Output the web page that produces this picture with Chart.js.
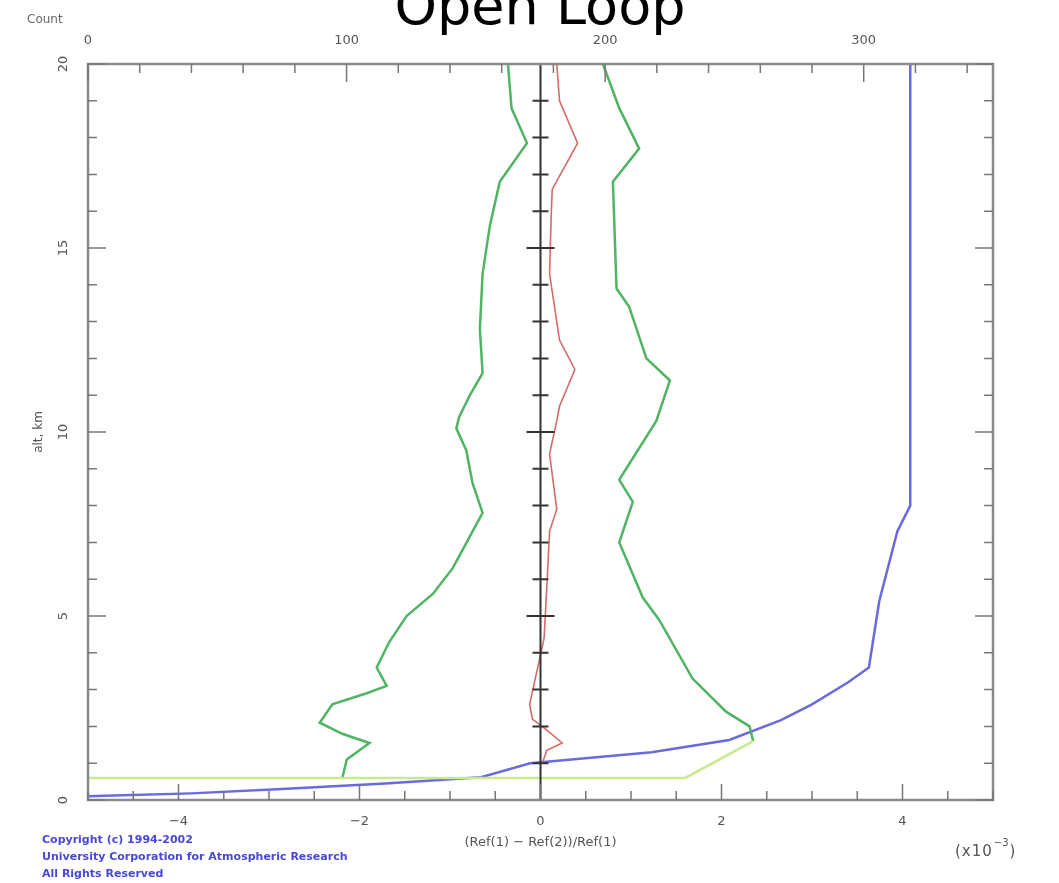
<!DOCTYPE html>
<html>
<head>
<meta charset="utf-8">
<script src="https://cdn.jsdelivr.net/npm/chart.js@4.4.0/dist/chart.umd.min.js"></script>
<style>
  html, body { margin: 0; padding: 0; background: #fff; }
  #wrap { width: 1059px; height: 883px; }
</style>
</head>
<body>
<div id="wrap"><canvas id="chart"></canvas></div>
<script>
// ---- data ----
// left green curve (mean - sigma), x in units of 1e-3
const leftAlt   = [20, 18.8, 17.85, 16.8, 15.6, 14.3, 12.8, 11.6, 11.0, 10.4, 10.1, 9.5, 8.6, 7.8, 6.3, 5.6, 5.0, 4.3, 3.6, 3.1, 2.9, 2.6, 2.1, 1.8, 1.55, 1.1, 0.6];
const leftVal   = [-0.36, -0.32, -0.15, -0.45, -0.56, -0.64, -0.67, -0.64, -0.78, -0.9, -0.93, -0.82, -0.75, -0.64, -0.97, -1.19, -1.48, -1.67, -1.81, -1.70, -1.92, -2.30, -2.44, -2.19, -1.89, -2.14, -2.19];

// right green curve (mean + sigma)
const rightAlt  = [20, 18.8, 17.7, 16.8, 13.9, 13.4, 12.0, 11.4, 10.3, 8.7, 8.1, 7.0, 5.5, 4.9, 3.3, 2.4, 2.0, 1.6];
const rightVal  = [0.69, 0.87, 1.09, 0.80, 0.84, 0.98, 1.17, 1.43, 1.28, 0.87, 1.02, 0.87, 1.13, 1.31, 1.68, 2.05, 2.31, 2.35];

// lowest level segment (light green)
const lowAlt    = [0.6, 0.6, 1.6];
const lowVal    = [-5.5, 1.6, 2.35];

// red curve (mean)
const meanAlt   = [20, 19, 17.85, 16.6, 16, 14.3, 12.5, 11.7, 10.7, 10.3, 9.4, 7.9, 7.3, 5.8, 4.4, 2.6, 2.2, 1.9, 1.55, 1.35, 1.0];
const meanVal   = [0.18, 0.21, 0.41, 0.13, 0.12, 0.10, 0.21, 0.38, 0.21, 0.18, 0.10, 0.18, 0.10, 0.07, 0.04, -0.12, -0.09, 0.07, 0.24, 0.07, 0.02];

// blue curve: sample count (top axis)
const countAlt  = [20, 8.0, 7.3, 5.4, 3.6, 3.2, 2.6, 2.17, 1.63, 1.3, 1.0, 0.62, 0.45, 0.3, 0.18, 0.12, 0.1];
const countVal  = [318, 318, 313, 306, 302, 294, 280, 268, 248, 218, 171, 152, 115, 75, 40, 10, 0];

const xTicks     = [-4, -2, 0, 2, 4];
const countTicks = [0, 100, 200, 300];
const altTicks   = [0, 5, 10, 15, 20];

function pts(xs, ys) {
    return xs.map((x, i) => ({ x: x, y: ys[i] }));
}

// =========================
// FRAME / TICKS / TEXT
// =========================
const decor = {
    id: "decor",
    afterDatasetsDraw(chart) {
        const ctx = chart.ctx;
        const a = chart.chartArea;
        const sx = chart.scales.x, sc = chart.scales.x2, sy = chart.scales.y;
        ctx.save();

        // zero axis in the middle with dashes
        const x0 = sx.getPixelForValue(0);
        ctx.strokeStyle = "#333";
        ctx.lineWidth = 2;
        ctx.beginPath();
        ctx.moveTo(x0, a.top);
        ctx.lineTo(x0, a.bottom);
        for (let v = 1; v < 20; v++) {
            const py = sy.getPixelForValue(v);
            const h = v % 5 === 0 ? 14 : 8;
            ctx.moveTo(x0 - h, py);
            ctx.lineTo(x0 + h, py);
        }
        ctx.stroke();

        // frame
        ctx.strokeStyle = "#8a8a8a";
        ctx.lineWidth = 2.5;
        ctx.strokeRect(a.left, a.top, a.right - a.left, a.bottom - a.top);

        // ticks
        ctx.strokeStyle = "#777";
        ctx.lineWidth = 1.5;
        ctx.beginPath();
        for (let v = -5; v <= 5; v += 0.5) {
            const px = sx.getPixelForValue(v);
            const h = v % 2 === 0 ? 16 : 9;
            ctx.moveTo(px, a.bottom);
            ctx.lineTo(px, a.bottom - h);
        }
        for (let v = 0; v <= 350; v += 20) {
            const px = sc.getPixelForValue(v);
            const h = v % 100 === 0 ? 18 : 9;
            ctx.moveTo(px, a.top);
            ctx.lineTo(px, a.top + h);
        }
        for (let v = 0; v <= 20; v++) {
            const py = sy.getPixelForValue(v);
            const h = v % 5 === 0 ? 18 : 9;
            ctx.moveTo(a.left, py);
            ctx.lineTo(a.left + h, py);
            ctx.moveTo(a.right, py);
            ctx.lineTo(a.right - h, py);
        }
        ctx.stroke();

        // title (cut at the top like the source)
        ctx.fillStyle = "#000";
        ctx.font = "54px 'DejaVu Sans'";
        ctx.textAlign = "center";
        ctx.textBaseline = "alphabetic";
        ctx.fillText("Open Loop", 540, 24);

        // "Count" label
        ctx.fillStyle = "#666";
        ctx.font = "12px 'DejaVu Sans'";
        ctx.textAlign = "left";
        ctx.fillText("Count", 27, 23);

        // exponent label
        ctx.fillStyle = "#555";
        ctx.letterSpacing = "1px";
        ctx.font = "15px 'DejaVu Sans'";
        ctx.fillText("(x10", 955, 856);
        let w = ctx.measureText("(x10").width;
        ctx.letterSpacing = "0px";
        ctx.font = "10px 'DejaVu Sans'";
        ctx.fillText("\u22123", 956 + w, 846);
        let w2 = ctx.measureText("\u22123").width;
        ctx.font = "15px 'DejaVu Sans'";
        ctx.fillText(")", 957 + w + w2, 856);

        // copyright
        ctx.fillStyle = "#4848d8";
        ctx.font = "bold 11px 'DejaVu Sans'";
        ctx.fillText("Copyright (c) 1994-2002", 42, 843);
        ctx.fillText("University Corporation for Atmospheric Research", 42, 860);
        ctx.fillText("All Rights Reserved", 42, 877);

        ctx.restore();
    }
};

const line = (data, color, width, xAxis) => ({
    data: data,
    showLine: true,
    borderColor: color,
    backgroundColor: color,
    borderWidth: width,
    pointRadius: 0,
    tension: 0,
    xAxisID: xAxis || "x",
    yAxisID: "y"
});

new Chart(document.getElementById("chart"), {
    type: "scatter",
    data: {
        datasets: [
            line(pts(lowVal, lowAlt), "#c9e98f", 2.5),
            line(pts(leftVal, leftAlt), "#4fb463", 2.5),
            line(pts(rightVal, rightAlt), "#4fb463", 2.5),
            line(pts(meanVal, meanAlt), "#d46a6a", 1.6),
            line(pts(countVal, countAlt), "#6a6ae0", 2.5, "x2")
        ]
    },
    options: {
        responsive: true,
        maintainAspectRatio: false,
        animation: false,
        layout: { padding: { left: 0, right: 66, top: 0, bottom: 0 } },
        plugins: {
            legend: { display: false },
            tooltip: { enabled: false }
        },
        scales: {
            x: {
                type: "linear",
                position: "bottom",
                min: -5,
                max: 5,
                afterBuildTicks: s => { s.ticks = xTicks.map(v => ({ value: v })); },
                afterFit: s => { s.height = 83; },
                grid: { display: false },
                border: { display: false },
                ticks: {
                    color: "#555",
                    font: { family: "DejaVu Sans", size: 13 },
                    padding: 6,
                    maxRotation: 0,
                    callback: v => (v < 0 ? "\u2212" + Math.abs(v) : String(v))
                },
                title: {
                    display: true,
                    text: "(Ref(1) \u2212 Ref(2))/Ref(1)",
                    color: "#555",
                    font: { family: "DejaVu Sans", size: 13 },
                    padding: { top: 0, bottom: 33 }
                }
            },
            x2: {
                type: "linear",
                position: "top",
                min: 0,
                max: 350,
                afterBuildTicks: s => { s.ticks = countTicks.map(v => ({ value: v })); },
                afterFit: s => { s.height = 64; },
                grid: { display: false },
                border: { display: false },
                ticks: {
                    color: "#555",
                    font: { family: "DejaVu Sans", size: 13 },
                    padding: 8,
                    maxRotation: 0
                }
            },
            y: {
                type: "linear",
                position: "left",
                min: 0,
                max: 20,
                afterBuildTicks: s => { s.ticks = altTicks.map(v => ({ value: v })); },
                afterFit: s => { s.width = 88; },
                grid: { display: false },
                border: { display: false },
                ticks: {
                    color: "#555",
                    font: { family: "DejaVu Sans", size: 13 },
                    padding: 8,
                    crossAlign: "center",
                    minRotation: 90,
                    maxRotation: 90
                },
                title: {
                    display: true,
                    text: "alt, km",
                    color: "#555",
                    font: { family: "DejaVu Sans", size: 12 },
                    padding: { top: 32, bottom: 0 }
                }
            }
        }
    },
    plugins: [decor]
});
</script>
</body>
</html>
